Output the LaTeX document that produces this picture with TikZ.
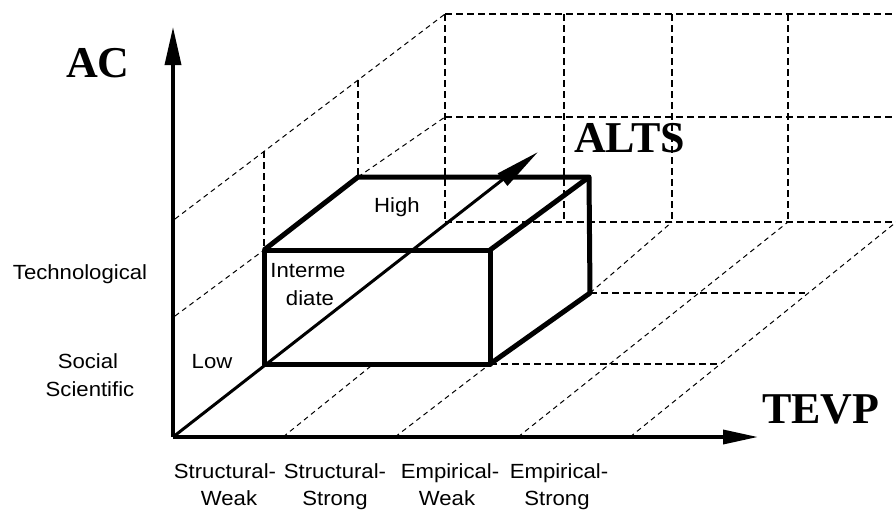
\documentclass[tikz,border=0pt]{standalone}
\usepackage{fontspec}
\setmainfont{Liberation Serif}
\newfontfamily\sansf[FakeStretch=1.08]{Liberation Sans}
\usetikzlibrary{arrows.meta}
\begin{document}
\begin{tikzpicture}[x=1pt,y=-1pt,
  gridline/.style={line width=1.1pt, dash pattern=on 7pt off 4pt},
  diagline/.style={line width=1pt, dash pattern=on 5pt off 4pt},
  axisline/.style={line width=3.5pt},
  boxedge/.style={line width=5pt, line join=round},
  title/.style={font=\fontsize{44}{44}\selectfont\bfseries, inner sep=0pt, anchor=base west},
  lab/.style={font=\sansf\fontsize{20.5}{24}\selectfont, inner sep=0pt, anchor=base}]
\useasboundingbox (0,0) rectangle (896,509);

% key points
\coordinate (O) at (173,437);
\coordinate (fbl) at (264,364);
\coordinate (fbr) at (490,364);
\coordinate (ftl) at (264,250);
\coordinate (ftr) at (490,250);
\coordinate (btl) at (358,177);
\coordinate (btr) at (589,177);
\coordinate (bbr) at (590,293);
\coordinate (ytip) at (173,27);
\coordinate (xtip) at (758,437);
\coordinate (ztip) at (538,152);

% back wall grid
\draw[gridline] (445,14) -- (896,14);
\draw[gridline] (445,117) -- (896,117);
\draw[gridline] (445,222) -- (896,222);
\foreach \x in {445,564,672,788} \draw[gridline] (\x,14) -- (\x,222);

% left wall grid
\draw[diagline] (175,219) -- (445,14);
\draw[diagline] (175,316) -- (ftl);
\draw[diagline] (btl) -- (445,117);
\draw[gridline] (264,151) -- (ftl);
\draw[gridline] (358,80) -- (btl);

% floor grid
\draw[diagline] (283,437) -- (371,366);
\draw[diagline] (395,437) -- (fbr);
\draw[diagline] (bbr) -- (672,222);
\draw[diagline] (518,437) -- (788,222);
\draw[diagline] (630,437) -- (900,219);
\draw[gridline] (fbr) -- (718,364);
\draw[gridline] (bbr) -- (805,293);

% axes
\draw[axisline, -{Triangle[length=38pt,width=16pt]}] (O) -- (ytip);
\draw[axisline, -{Triangle[length=35pt,width=14pt]}] (O) -- (xtip);

% box
\draw[boxedge] (fbl) rectangle (ftr);
\draw[boxedge] (ftl) -- (btl) -- (btr) -- (bbr) -- (fbr);
\draw[boxedge] (ftr) -- (btr);

% ALTS axis
\draw[line width=3pt, -{Triangle[length=45pt,width=15pt]}] (O) -- (ztip);

% titles
\node[title] (ac) at (66,77) {AC};
\node[title] (alts) at (574,152) {ALTS};
\node[title] (tevp) at (762,423) {TEVP};

% labels
\node[lab] (tech) at (80,279) {Technological};
\node[lab] (soc1) at (88,368) {Social};
\node[lab] (soc2) at (90,396) {Scientific};
\node[lab] (low) at (212,368) {Low};
\node[lab] (int1) at (308,277) {Interme};
\node[lab] (int2) at (310,305) {diate};
\node[lab] (high) at (397,212) {High};
\node[lab] (x1a) at (225,478) {Structural-};
\node[lab] (x1b) at (229,505) {Weak};
\node[lab] (x2a) at (335,478) {Structural-};
\node[lab] (x2b) at (335,505) {Strong};
\node[lab] (x3a) at (450,478) {Empirical-};
\node[lab] (x3b) at (447,505) {Weak};
\node[lab] (x4a) at (559,478) {Empirical-};
\node[lab] (x4b) at (557,505) {Strong};
\end{tikzpicture}
\end{document}
